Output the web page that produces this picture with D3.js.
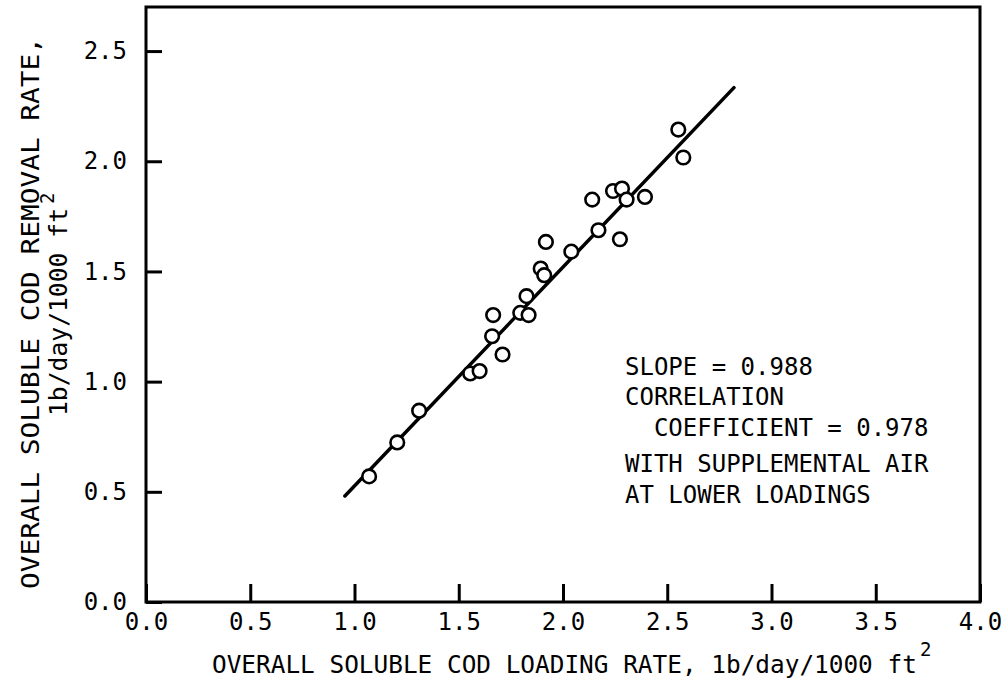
<!DOCTYPE html>
<html>
<head>
<meta charset="utf-8">
<script src="https://cdn.jsdelivr.net/npm/d3@7"></script>
<style>
  body { margin: 0; background: #fff; }
  text { font-family: "DejaVu Sans Mono", monospace; fill: #000; }
</style>
</head>
<body>
<div id="chart"></div>
<script>
// chart size
var svgWidth = 1005;
var svgHeight = 688;

// data
var loadingRate = [1.07, 1.205, 1.31, 1.555, 1.60, 1.71, 1.66, 1.665, 1.795, 1.835, 1.825,
  1.893, 1.91, 1.918, 2.04, 2.17, 2.14, 2.24, 2.283, 2.305, 2.393, 2.273, 2.553, 2.577];
var removalRate = [0.57, 0.724, 0.868, 1.037, 1.048, 1.123, 1.206, 1.302, 1.312, 1.302, 1.388,
  1.513, 1.483, 1.634, 1.59, 1.687, 1.826, 1.865, 1.876, 1.826, 1.838, 1.646, 2.144, 2.017];

// fitted line end points
var fitX = [0.954, 2.82];
var fitY = [0.481, 2.334];

var xTicks = [0, 0.5, 1.0, 1.5, 2.0, 2.5, 3.0, 3.5, 4.0];
var yTicks = [0, 0.5, 1.0, 1.5, 2.0, 2.5];

var noteLines = ["SLOPE = 0.988", "CORRELATION", "  COEFFICIENT = 0.978",
  "WITH SUPPLEMENTAL AIR", "AT LOWER LOADINGS"];

var margin = { left: 146, right: 25, top: 7, bottom: 86 };
var width = svgWidth - margin.left - margin.right;
var height = svgHeight - margin.top - margin.bottom;

var svg = d3.select("#chart")
  .append("svg")
  .attr("width", svgWidth)
  .attr("height", svgHeight);

var g = svg.append("g")
  .attr("transform", "translate(" + margin.left + "," + margin.top + ")");

var xScale = d3.scaleLinear().domain([0, 4]).range([0, width]);
var yScale = d3.scaleLinear().domain([0, 2.7]).range([height, 0]);

// x axis, ticks pointing inward
var xAxis = g.append("g")
  .attr("transform", "translate(0," + yScale(0) + ")")
  .call(d3.axisBottom(xScale).tickValues(xTicks).tickSize(-18).tickPadding(11)
    .tickFormat(d3.format(".1f")));

// y axis
var yAxis = g.append("g")
  .call(d3.axisLeft(yScale).tickValues(yTicks).tickSize(-16).tickPadding(19)
    .tickFormat(d3.format(".1f")));

[xAxis, yAxis].forEach(function(ax) {
  ax.select(".domain").remove();
  ax.selectAll("line").attr("stroke", "#000").attr("stroke-width", 3);
  ax.selectAll("text")
    .attr("font-family", "DejaVu Sans Mono")
    .attr("font-size", 24)
    .attr("fill", "#000");
});

// frame
g.append("rect")
  .attr("x", 0)
  .attr("y", 0)
  .attr("width", width)
  .attr("height", height)
  .attr("fill", "none")
  .attr("stroke", "#000")
  .attr("stroke-width", 3);

// regression line
var line = d3.line()
  .x(function(d) { return xScale(d[0]); })
  .y(function(d) { return yScale(d[1]); });

g.append("path")
  .attr("d", line(d3.zip(fitX, fitY)))
  .attr("fill", "none")
  .attr("stroke", "#000")
  .attr("stroke-width", 3.5)
  .attr("stroke-linecap", "round");

// data points
g.selectAll("circle")
  .data(d3.zip(loadingRate, removalRate))
  .enter()
  .append("circle")
  .attr("cx", function(d) { return xScale(d[0]); })
  .attr("cy", function(d) { return yScale(d[1]); })
  .attr("r", 6.8)
  .attr("fill", "#fff")
  .attr("stroke", "#000")
  .attr("stroke-width", 2.6);

// annotation
var noteY = [375, 405, 436, 472, 503];
svg.selectAll(".note")
  .data(noteLines)
  .enter()
  .append("text")
  .attr("class", "note")
  .attr("x", 625)
  .attr("y", function(d, i) { return noteY[i]; })
  .attr("font-size", 24)
  .attr("xml:space", "preserve")
  .style("white-space", "pre")
  .text(function(d) { return d; });

// x title
svg.append("text")
  .attr("x", 212)
  .attr("y", 673)
  .attr("font-size", 24.4)
  .text("OVERALL SOLUBLE COD LOADING RATE, 1b/day/1000 ft");
svg.append("text")
  .attr("x", 920)
  .attr("y", 656)
  .attr("font-size", 19)
  .text("2");

// y title, two lines
svg.append("text")
  .attr("transform", "translate(39,313) rotate(-90)")
  .attr("text-anchor", "middle")
  .attr("font-size", 25)
  .attr("textLength", 552)
  .attr("lengthAdjust", "spacingAndGlyphs")
  .text("OVERALL SOLUBLE COD REMOVAL RATE,");
svg.append("text")
  .attr("transform", "translate(67,416) rotate(-90)")
  .attr("font-size", 25)
  .attr("textLength", 208)
  .attr("lengthAdjust", "spacingAndGlyphs")
  .text("1b/day/1000 ft");
svg.append("text")
  .attr("transform", "translate(54,204) rotate(-90)")
  .attr("font-size", 19)
  .text("2");
</script>
</body>
</html>
